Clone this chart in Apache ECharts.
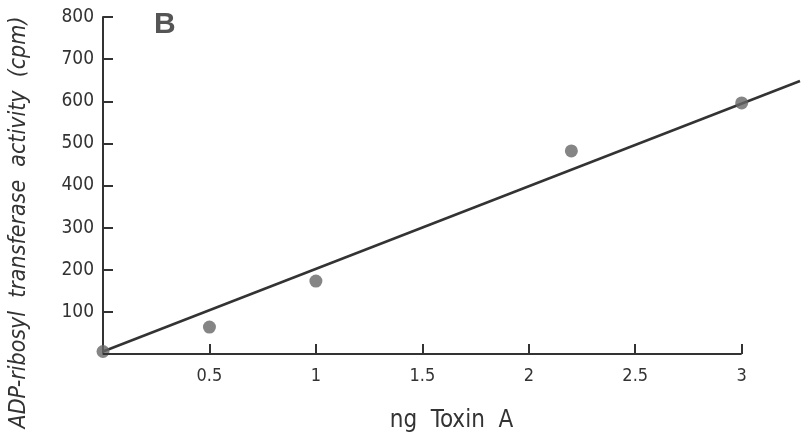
<!DOCTYPE html>
<html>
<head>
<meta charset="utf-8">
<script src="https://cdn.jsdelivr.net/npm/echarts@6/dist/echarts.min.js"></script>
<style>html,body{margin:0;padding:0;background:#fff}#c{width:801px;height:442px}</style>
</head>
<body>
<div id="c"></div>
<script>
// Data
var toxinNg = [0, 0.5, 1, 2.2, 3];
var activityCpm = [6, 64, 173, 482, 596];
var fitX = [0, 3.274];
var fitY = [6, 648];
var xTicks = [0.5, 1, 1.5, 2, 2.5, 3];
var yTicks = [100, 200, 300, 400, 500, 600, 700, 800];
var xAxisEnd = 3;
var xViewMax = 3.274;
var panelLabel = 'B';
var xName = 'ng  Toxin  A';
var yName = 'ADP-ribosyl  transferase  activity  (cpm)';

var FONT = '"Liberation Sans Narrow", "DejaVu Sans Condensed", "Liberation Sans", sans-serif';
var INK = '#333';

var pts = toxinNg.map(function (x, i) { return [x, activityCpm[i]]; });
var fit = fitX.map(function (x, i) { return [x, fitY[i]]; });

var chart = echarts.init(document.getElementById('c'), null, {renderer: 'canvas'});
chart.setOption({
  animation: false,
  backgroundColor: '#fff',
  title: {
    text: panelLabel, left: 149, top: 5,
    textStyle: {fontFamily: 'Liberation Sans', fontWeight: 'bold', fontSize: 30, color: '#555'}
  },
  grid: {left: 101, right: 1, top: 17, bottom: 88, containLabel: false},
  xAxis: {
    type: 'value', min: 0, max: xViewMax,
    name: xName, nameLocation: 'middle', nameGap: 55,
    nameTextStyle: {fontFamily: FONT, fontSize: 24, color: INK},
    axisLine: {show: false},
    axisTick: {show: true, inside: true, length: 10, lineStyle: {color: INK, width: 2},
      customValues: xTicks},
    axisLabel: {fontFamily: FONT, fontSize: 18, color: INK, margin: 13,
      customValues: xTicks},
    splitLine: {show: false}
  },
  yAxis: {
    type: 'value', min: 0, max: 800, interval: 100,
    name: yName, nameLocation: 'middle', nameGap: 72, nameRotate: 90,
    nameTextStyle: {fontFamily: FONT, fontSize: 23, fontStyle: 'italic', color: INK, padding: [0, 74, 0, 0]},
    axisLine: {show: true, lineStyle: {color: INK, width: 2}},
    axisTick: {show: true, inside: true, length: 10, lineStyle: {color: INK, width: 2},
      customValues: yTicks},
    axisLabel: {fontFamily: FONT, fontSize: 19, color: INK, margin: 9,
      customValues: yTicks},
    splitLine: {show: false}
  },
  series: [
    {
      type: 'line', data: fit, symbol: 'none',
      lineStyle: {color: INK, width: 2.5}, z: 2,
      markLine: {
        silent: true, symbol: 'none', label: {show: false},
        lineStyle: {color: INK, width: 2, type: 'solid'},
        data: [[{coord: [0, 0]}, {coord: [xAxisEnd, 0]}]]
      }
    },
    {
      type: 'scatter', data: pts, symbol: 'circle', symbolSize: 13, clip: false,
      itemStyle: {color: '#666'}, z: 3
    }
  ]
});
</script>
</body>
</html>
